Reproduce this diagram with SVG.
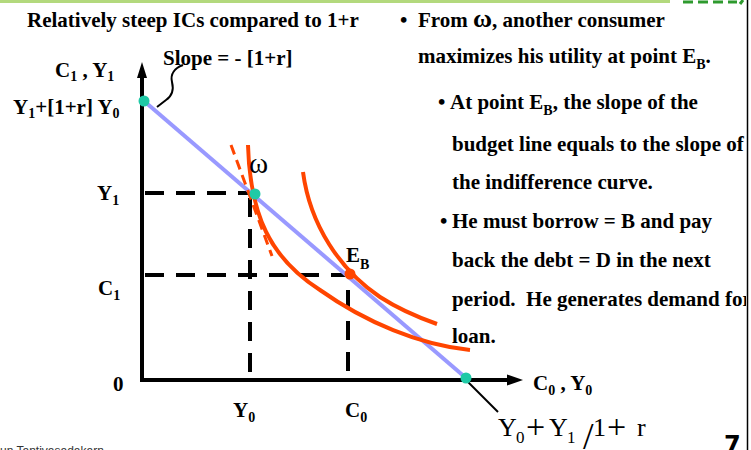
<svg xmlns="http://www.w3.org/2000/svg" width="751" height="450" viewBox="0 0 751 450">
<style>
.t{font-family:"Liberation Serif","Times New Roman",serif;font-weight:bold;font-size:21px;fill:#000}
.s{font-size:14px}
.m{font-family:"Liberation Serif","Times New Roman",serif;font-weight:normal;fill:#000}
.dash{stroke:#000;stroke-width:4;stroke-dasharray:19 12;fill:none}
.ic{stroke:#ff4500;stroke-width:4;fill:none}
.ax{stroke:#000;stroke-width:4;fill:none}
</style>
<defs>
<clipPath id="clipR"><rect x="0" y="0" width="746" height="450"/></clipPath>
</defs>
<rect width="751" height="450" fill="#fff"/>
<g id="frame">
<line x1="0" y1="1.5" x2="670" y2="1.5" stroke="#b3d97d" stroke-width="3"/>
<g stroke="#2e9a2e" stroke-width="3">
<line x1="683" y1="2" x2="693" y2="2"/><line x1="698" y1="2" x2="708" y2="2"/><line x1="713" y1="2" x2="723" y2="2"/><line x1="728" y1="2" x2="737" y2="2"/><line x1="740" y1="4" x2="743" y2="0"/>
</g>
<line x1="747.5" y1="0" x2="747.5" y2="450" stroke="#000" stroke-width="1.5"/>
<text x="0" y="455" font-family="Liberation Sans, Arial, sans-serif" font-size="12" fill="#333">un Tantivasadakarn</text>
<text x="724" y="453" font-family="DejaVu Sans, sans-serif" font-weight="bold" font-size="24" fill="#000">7</text>
</g>
<g id="title"><text class="t" x="27" y="27">Relatively steep ICs compared to 1+r</text></g>
<g id="axes">
<line class="ax" x1="142" y1="382" x2="142" y2="76"/>
<polygon points="137,78 142,62 147,78" fill="#000"/>
<line class="ax" x1="140" y1="380" x2="508" y2="380"/>
<polygon points="507,374.5 523,380 507,385.5" fill="#000"/>
</g>
<g id="connectors">
<line class="dash" x1="145" y1="193" x2="252" y2="193"/>
<line class="dash" x1="145" y1="275" x2="349" y2="275"/>
<line class="dash" x1="250" y1="198" x2="250" y2="380" stroke-dasharray="20 13"/>
<line class="dash" x1="348" y1="290" x2="348" y2="380" stroke-dasharray="18 14"/>
<line x1="144" y1="101" x2="466" y2="378" stroke="#9999ff" stroke-width="4"/>
<path class="ic" d="M248,145 C250,215 270,258 320,290 C365,322 420,345 470,350"/>
<path class="ic" d="M303,172 C310,225 340,270 380,297 C400,310 420,318 437,324"/>
<line x1="231" y1="145" x2="272" y2="256" stroke="#ff4500" stroke-width="3" stroke-dasharray="10 6"/>
<path d="M183,65 C175,68 170,74 172,82 C174,90 172,96 166,100 L157,107" stroke="#000" stroke-width="2" fill="none"/>
<line x1="468" y1="382" x2="498" y2="412" stroke="#000" stroke-width="2"/>
</g>
<g id="node-top"><circle cx="144" cy="101" r="5.5" fill="#1fc9a6"/></g>
<g id="node-omega"><circle cx="255" cy="194" r="5.5" fill="#1fc9a6"/>
<text class="m" x="249" y="173" font-size="29" font-weight="bold">ω</text></g>
<g id="node-EB"><circle cx="350" cy="274" r="5.5" fill="#ff4500"/>
<text class="t" x="346" y="262" font-size="22">E<tspan class="s" dy="7">B</tspan></text></g>
<g id="node-xint"><circle cx="466" cy="378" r="5.5" fill="#1fc9a6"/></g>
<g id="labels">
<text class="t" x="163" y="65">Slope = - [1+r]</text>
<text class="t" x="55" y="77">C<tspan class="s" dy="4">1</tspan><tspan dy="-4"> , Y</tspan><tspan class="s" dy="4">1</tspan></text>
<text class="t" x="13" y="114">Y<tspan class="s" dy="4">1</tspan><tspan dy="-4">+[1+r] Y</tspan><tspan class="s" dy="4">0</tspan></text>
<text class="t" x="97" y="200">Y<tspan class="s" dy="5">1</tspan></text>
<text class="t" x="98" y="295">C<tspan class="s" dy="5">1</tspan></text>
<text class="t" x="113" y="391">0</text>
<text class="t" x="233" y="417">Y<tspan class="s" dy="5">0</tspan></text>
<text class="t" x="345" y="417">C<tspan class="s" dy="5">0</tspan></text>
<text class="t" x="533" y="390">C<tspan class="s" dy="5">0</tspan><tspan dy="-5"> , Y</tspan><tspan class="s" dy="5">0</tspan></text>
<text class="m" x="498" y="436" font-size="26">Y</text>
<text class="m" x="516" y="443" font-size="17">0</text>
<text class="m" x="526" y="438" font-size="34">+</text>
<text class="m" x="549" y="436" font-size="26">Y</text>
<text class="m" x="567" y="443" font-size="17">1</text>
<text class="m" x="583" y="449" font-size="38">/</text>
<text class="m" x="593" y="436" font-size="26">1</text>
<text class="m" x="607" y="438" font-size="34">+</text>
<text class="m" x="637" y="436" font-size="26">r</text>
</g>
<g id="bullets" clip-path="url(#clipR)">
<text class="t" x="400" y="27">•</text>
<text class="t" x="418" y="27">From <tspan font-size="26">ω</tspan>, another consumer</text>
<text class="t" x="418" y="63">maximizes his utility at point E<tspan class="s" dy="6">B</tspan><tspan dy="-6">.</tspan></text>
<text class="t" x="438" y="109">•</text>
<text class="t" x="450" y="109">At point E<tspan class="s" dy="6">B</tspan><tspan dy="-6">, the slope of the</tspan></text>
<text class="t" x="452" y="151">budget line equals to the slope of</text>
<text class="t" x="452" y="189">the indifference curve.</text>
<text class="t" x="440" y="228">•</text>
<text class="t" x="452" y="228">He must borrow = B and pay</text>
<text class="t" x="452" y="267">back the debt = D in the next</text>
<text class="t" x="452" y="306" xml:space="preserve">period.  He generates demand for</text>
<text class="t" x="452" y="343">loan.</text>
</g>
</svg>
